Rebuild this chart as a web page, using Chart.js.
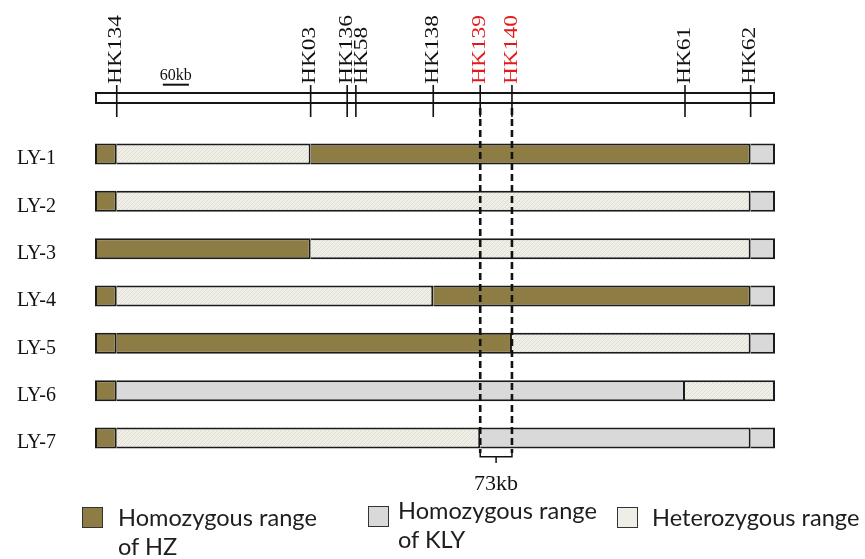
<!DOCTYPE html>
<html>
<head>
<meta charset="utf-8">
<script src="https://cdn.jsdelivr.net/npm/chart.js@4.4.1/dist/chart.umd.min.js"></script>
<style>
  html, body { margin: 0; padding: 0; background: #fff; }
  #wrap { position: relative; width: 865px; height: 559px; }
  #legend { position: absolute; left: 0; top: 0; width: 865px; height: 559px; pointer-events: none;
            font-family: Lato, "Open Sans", sans-serif; color: #1e1e1e; }
  .item { position: absolute; }
  .box { position: absolute; left: 0; width: 21px; height: 21px; border: 1.5px solid #333; box-sizing: border-box; }
  .txt { position: absolute; white-space: pre; font-size: 23.6px; line-height: 29px; }
  #lg0 { left: 82px; top: 503px; }
  #lg1 { left: 368px; top: 496px; }
  #lg2 { left: 617px; top: 503px; }
  #lg0 .box { top: 4px; } #lg0 .txt { left: 36px; }
  #lg1 .box { top: 10px; } #lg1 .txt { left: 30px; }
  #lg2 .box { top: 4px; } #lg2 .txt { left: 35px; }
</style>
</head>
<body>
<div id="wrap">
  <canvas id="myChart" width="865" height="559"></canvas>
  <div id="legend"></div>
</div>
<script>
// 데이터
const rows = ["LY-1", "LY-2", "LY-3", "LY-4", "LY-5", "LY-6", "LY-7"];
const markers = ["HK134", "HK03", "HK136", "HK58", "HK138", "HK139", "HK140", "HK61", "HK62"];
const markerKb = [50, 496, 580, 600, 778, 886, 959, 1357, 1508];
const redMarkers = ["HK139", "HK140"];
const chromKb = 1564;
const scaleBarKb = 60;
const gapText = "73kb";

// 각 줄의 구간 경계(kb)와 유전자형
const breaks = [
  [0, 50, 496, 1508, 1564],
  [0, 50, 1508, 1564],
  [0, 496, 1508, 1564],
  [0, 50, 778, 1508, 1564],
  [0, 50, 959, 1508, 1564],
  [0, 50, 1357, 1564],
  [0, 50, 886, 1508, 1564],
];
const types = [
  ["HZ", "HET", "HZ", "KLY"],
  ["HZ", "HET", "KLY"],
  ["HZ", "HET", "KLY"],
  ["HZ", "HET", "HZ", "KLY"],
  ["HZ", "HZ", "HET", "KLY"],
  ["HZ", "KLY", "HET"],
  ["HZ", "HET", "KLY", "KLY"],
];
const legendKeys = ["HZ", "KLY", "HET"];
const legendLabels = ["Homozygous range\nof HZ", "Homozygous range\nof KLY", "Heterozygous range"];

// 레이아웃 (행 단위)
const Y_MIN = -0.394;
const Y_MAX = 8.099;
const CHR_ROW = -0.183;
const TICK_TOP = -0.458;
const TICK_BOTTOM = 0.218;
const DASH_TOP = 0.028;
const DASH_BOTTOM = 7.317;
const BRACKET_Y = 7.395;
const BRACKET_TIP = 7.528;
const SCALE_ROW = -0.464;
const SCALE_START = 156;

// 이형접합 빗금 패턴
function makeHatch() {
  const c = document.createElement("canvas");
  c.width = 4;
  c.height = 4;
  const g = c.getContext("2d");
  g.fillStyle = "#f0efe7";
  g.fillRect(0, 0, 4, 4);
  g.strokeStyle = "#e0ded3";
  g.lineWidth = 1;
  g.beginPath();
  g.moveTo(0, 4);
  g.lineTo(4, 0);
  g.stroke();
  return g.createPattern(c, "repeat");
}

const fills = { HZ: "#8d7d45", KLY: "#d9d9d9", HET: makeHatch() };
const legendFills = { HZ: "#8d7d45", KLY: "#d9d9d9", HET: "#efeee6" };

const datasets = [];

// 염색체 막대
datasets.push({
  type: "bar",
  indexAxis: "y",
  grouped: false,
  data: [{ x: [0, chromKb], y: CHR_ROW }],
  backgroundColor: "#ffffff",
  borderColor: "#151515",
  borderWidth: 2,
  borderSkipped: false,
  maxBarThickness: 12,
  order: 1,
});

// 구간 막대
const maxSeg = Math.max(...types.map((t) => t.length));
for (let k = 0; k < maxSeg; k++) {
  const data = [];
  rows.forEach((r, i) => {
    if (types[i][k]) {
      data.push({ x: [breaks[i][k], breaks[i][k + 1]], y: i + 1, g: types[i][k] });
    }
  });
  datasets.push({
    type: "bar",
    indexAxis: "y",
    grouped: false,
    data: data,
    backgroundColor: (c) => (c.raw ? fills[c.raw.g] : "#fff"),
    borderColor: "#1b1b1b",
    borderWidth: 2,
    borderSkipped: k === 0 ? false : "left",
    maxBarThickness: 21,
    order: 1,
  });
}

const lineBase = {
  type: "line",
  pointRadius: 0,
  borderColor: "#111",
  fill: false,
  tension: 0,
  clip: false,
  order: 0,
};

// 마커 선
markerKb.forEach((p) => {
  datasets.push({
    ...lineBase,
    borderWidth: 1.6,
    data: [{ x: p, y: TICK_TOP }, { x: p, y: TICK_BOTTOM }],
  });
});

// 점선 + 괄호
const p1 = markerKb[markers.indexOf("HK139")];
const p2 = markerKb[markers.indexOf("HK140")];
[p1, p2].forEach((p) => {
  datasets.push({
    ...lineBase,
    borderWidth: 2.6,
    borderDash: [7, 4],
    data: [{ x: p, y: DASH_TOP }, { x: p, y: DASH_BOTTOM }],
  });
});
datasets.push({
  ...lineBase,
  borderWidth: 1.5,
  data: [
    { x: p1, y: DASH_BOTTOM },
    { x: p1, y: BRACKET_Y },
    { x: p2, y: BRACKET_Y },
    { x: p2, y: DASH_BOTTOM },
  ],
});
datasets.push({
  ...lineBase,
  borderWidth: 1.5,
  data: [{ x: (p1 + p2) / 2, y: BRACKET_Y }, { x: (p1 + p2) / 2, y: BRACKET_TIP }],
});

// 60kb 스케일
datasets.push({
  ...lineBase,
  borderWidth: 2,
  data: [{ x: SCALE_START, y: SCALE_ROW }, { x: SCALE_START + scaleBarKb, y: SCALE_ROW }],
});

// 텍스트 플러그인
const mapText = {
  id: "mapText",
  afterDatasetsDraw(chart) {
    const { ctx } = chart;
    const x = chart.scales.x;
    const y = chart.scales.y;
    ctx.save();

    // 마커 이름 (세로, 원본처럼 길게 늘림)
    ctx.font = '18px "Liberation Serif", serif';
    ctx.textAlign = "left";
    ctx.textBaseline = "middle";
    let lastX = -Infinity;
    markers.forEach((m, i) => {
      let px = x.getPixelForValue(markerKb[i]);
      if (px - lastX < 15) px = lastX + 15;
      lastX = px;
      ctx.save();
      ctx.translate(px, y.getPixelForValue(TICK_TOP) - 1);
      ctx.rotate(-Math.PI / 2);
      ctx.scale(1.3, 1);
      ctx.fillStyle = redMarkers.includes(m) ? "#e3191c" : "#111";
      ctx.fillText(m, 0, 0);
      ctx.restore();
    });

    // 60kb
    ctx.fillStyle = "#111";
    ctx.textAlign = "center";
    ctx.textBaseline = "alphabetic";
    ctx.font = '16px "Liberation Serif", serif';
    ctx.fillText(
      scaleBarKb + "kb",
      x.getPixelForValue(SCALE_START + scaleBarKb / 2),
      y.getPixelForValue(SCALE_ROW) - 5
    );

    // 73kb
    ctx.font = '22px "Liberation Serif", serif';
    ctx.fillText(gapText, x.getPixelForValue((p1 + p2) / 2), y.getPixelForValue(BRACKET_TIP) + 27);

    ctx.restore();
  },
};

const ctx = document.getElementById("myChart");
const chart = new Chart(ctx, {
  type: "bar",
  data: { datasets: datasets },
  plugins: [mapText],
  options: {
    responsive: false,
    animation: false,
    devicePixelRatio: 1,
    layout: { padding: { left: 0, right: 90, top: 88, bottom: 69 } },
    plugins: {
      legend: { display: false },
      tooltip: { enabled: false },
    },
    scales: {
      x: {
        type: "linear",
        min: 0,
        max: chromKb,
        offset: false,
        display: false,
      },
      y: {
        type: "linear",
        reverse: true,
        min: Y_MIN,
        max: Y_MAX,
        offset: false,
        grid: { display: false, drawTicks: false },
        border: { display: false },
        afterBuildTicks: (scale) => {
          scale.ticks = rows.map((r, i) => ({ value: i + 1 }));
        },
        afterFit: (scale) => {
          scale.width = 95;
        },
        ticks: {
          callback: (v, i) => rows[i],
          color: "#111",
          padding: 39,
          labelOffset: 5,
          font: { family: "'Liberation Serif', serif", size: 20 },
        },
      },
    },
  },
});

// 범례
const legend = document.getElementById("legend");
legendKeys.forEach((k, i) => {
  legend.innerHTML += `<div class="item" id="lg${i}">
      <div class="box" style="background:${legendFills[k]}"></div>
      <div class="txt">${legendLabels[i]}</div>
    </div>`;
});
</script>
</body>
</html>
